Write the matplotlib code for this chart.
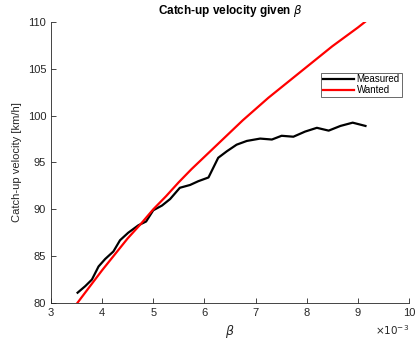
import matplotlib
matplotlib.use("Agg")
import matplotlib.pyplot as plt

# beta values in units of 1e-3
beta_meas = [3.52, 3.67, 3.80, 3.93, 4.06, 4.22, 4.35, 4.51, 4.71, 4.86,
             5.00, 5.17, 5.33, 5.52, 5.72, 5.88, 6.08, 6.27, 6.44, 6.63,
             6.83, 7.09, 7.32, 7.51, 7.74, 7.97, 8.20, 8.43, 8.66, 8.90, 9.15]
v_meas = [81.1, 81.8, 82.5, 83.9, 84.7, 85.5, 86.7, 87.5, 88.3, 88.7,
          89.9, 90.4, 91.1, 92.3, 92.6, 93.0, 93.4, 95.5, 96.2, 96.9,
          97.3, 97.55, 97.45, 97.85, 97.75, 98.3, 98.7, 98.4, 98.9, 99.25, 98.9]

beta_want = [3.515, 3.75, 4.0, 4.25, 4.5, 4.75, 5.0, 5.25, 5.5, 5.75, 6.0,
             6.25, 6.5, 6.75, 7.0, 7.25, 7.5, 7.75, 8.0, 8.25, 8.5, 8.75,
             9.0, 9.14]
v_want = [80.0, 81.7, 83.5, 85.2, 86.9, 88.4, 90.0, 91.4, 92.9, 94.3, 95.6,
          96.9, 98.2, 99.5, 100.7, 101.9, 103.0, 104.1, 105.2, 106.3, 107.4,
          108.4, 109.4, 110.0]

xticks = [3, 4, 5, 6, 7, 8, 9, 10]
yticks = [80, 85, 90, 95, 100, 105, 110]

plt.rcParams['font.family'] = ['Liberation Sans', 'DejaVu Sans']
grey = (0.15, 0.15, 0.15)

fig = plt.figure(figsize=(4.16, 3.43), dpi=100)
ax = fig.add_axes([0.1226, 0.1166, 0.8604, 0.8194])

ax.plot(beta_meas, v_meas, color='black', lw=1.6, label='Measured')
ax.plot(beta_want, v_want, color='red', lw=1.6, label='Wanted')

ax.set_xlim(3, 10)
ax.set_ylim(80, 110)
ax.set_xticks(xticks)
ax.set_yticks(yticks)

for s in ['top', 'right']:
    ax.spines[s].set_visible(False)
for s in ['left', 'bottom']:
    ax.spines[s].set_color(grey)
    ax.spines[s].set_linewidth(0.6)
ax.tick_params(direction='in', length=3.5, width=0.6, colors=grey,
               labelsize=8, labelcolor=grey)

# exponent label like MATLAB
ax.text(1.0, -0.095, r'$\times10^{-3}$', transform=ax.transAxes,
        ha='right', va='center', fontsize=7.5, color=grey)

ax.set_xlabel(r'$\beta$', fontsize=9, color=grey, labelpad=4)
ax.set_ylabel('Catch-up velocity [km/h]', fontsize=8, color=grey, labelpad=4)
ax.set_title(r'Catch-up velocity given $\beta$', fontsize=8.5, fontweight='bold', pad=6)

leg = ax.legend(loc='upper right', bbox_to_anchor=(0.98, 0.82), fontsize=7,
                frameon=True, fancybox=False, handlelength=3.2, borderpad=0.2,
                labelspacing=0.05, handletextpad=0.3, borderaxespad=0)
leg.get_frame().set_edgecolor(grey)
leg.get_frame().set_linewidth(0.6)

fig.savefig('out.png', dpi=100)
